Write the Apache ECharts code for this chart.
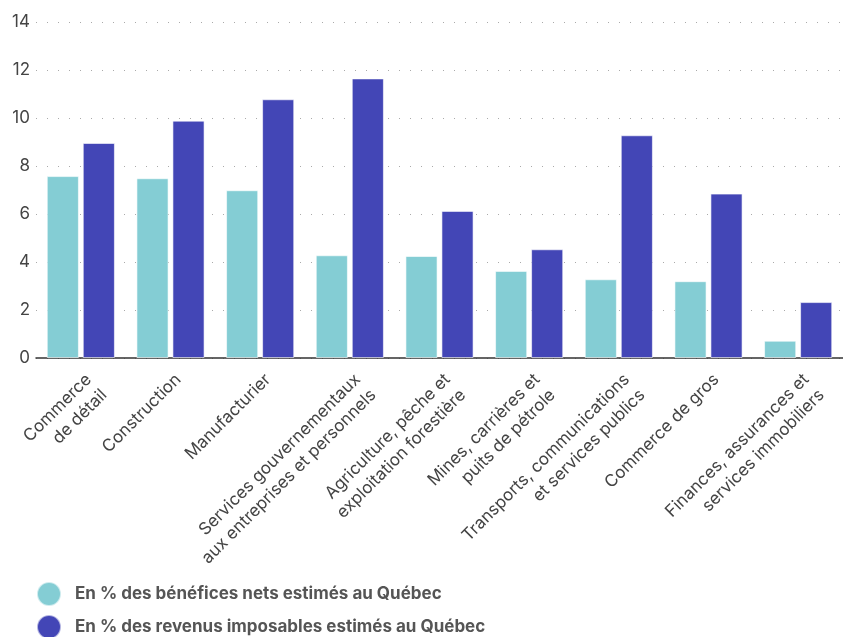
<!DOCTYPE html>
<html><head><meta charset="utf-8">
<script src="https://cdn.jsdelivr.net/npm/echarts@6/dist/echarts.min.js"></script>
<style>html,body{margin:0;padding:0;background:#fff}#c{width:843px;height:637px}</style>
</head><body><div id="c"></div>
<script>
const categories = [
  "Commerce\nde détail",
  "Construction",
  "Manufacturier",
  "Services gouvernementaux\naux entreprises et personnels",
  "Agriculture, pêche et\nexploitation forestière",
  "Mines, carrières et\npuits de pétrole",
  "Transports, communications\net services publics",
  "Commerce de gros",
  "Finances, assurances et\nservices immobiliers"
];
const seriesNames = [
  "En % des bénéfices nets estimés au Québec",
  "En % des revenus imposables estimés au Québec"
];
const benefices = [7.58, 7.49, 6.99, 4.28, 4.25, 3.63, 3.28, 3.2, 0.72];
const revenus = [8.96, 9.89, 10.78, 11.65, 6.13, 4.53, 9.28, 6.85, 2.33];
const colors = ["#84CDD4", "#4346B6"];

const legendBase = {
  orient: 'vertical', left: 36, padding: 0,
  icon: 'circle', itemWidth: 24, itemHeight: 24,
  textStyle: {fontSize: 17, fontWeight: 'bold', color: '#555', padding: [0, 0, 0, 9]}
};

const chart = echarts.init(document.getElementById('c'), null, {renderer: 'canvas'});
chart.setOption({
  animation: false,
  textStyle: {fontFamily: 'Inter, "Noto Sans", sans-serif'},
  grid: {left: 36, right: -10, top: 22, bottom: 279, containLabel: false},
  legend: [
    Object.assign({}, legendBase, {top: 581, data: [seriesNames[0]]}),
    Object.assign({}, legendBase, {top: 614, data: [seriesNames[1]]})
  ],
  xAxis: {
    type: 'category', data: categories,
    axisLine: {lineStyle: {color: '#333', width: 1.5}},
    axisTick: {show: false},
    axisLabel: {rotate: 45, interval: 0, fontSize: 17, color: '#444', lineHeight: 22,
                margin: 11, verticalAlign: 'top'}
  },
  yAxis: {
    type: 'value', min: 0, max: 14, interval: 2,
    axisLine: {show: false}, axisTick: {show: false},
    axisLabel: {fontSize: 17, color: '#444', margin: 6},
    splitLine: {lineStyle: {type: [1, 10], color: '#aaa', width: 1.2}}
  },
  series: [
    {name: seriesNames[0], type: 'bar', data: benefices, barGap: '12%', barCategoryGap: '24%',
     itemStyle: {color: colors[0], borderColor: 'rgba(255,255,255,0.6)', borderWidth: 1}},
    {name: seriesNames[1], type: 'bar', data: revenus,
     itemStyle: {color: colors[1], borderColor: 'rgba(255,255,255,0.6)', borderWidth: 1}}
  ]
});
</script></body></html>
